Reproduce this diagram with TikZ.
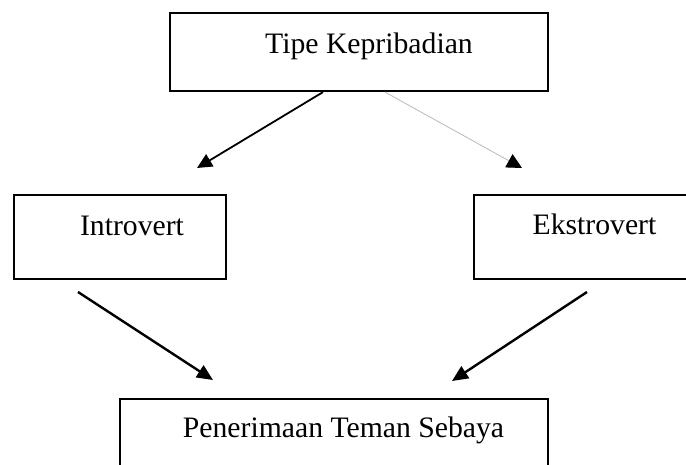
\documentclass[tikz,border=0pt]{standalone}
\usepackage{fontspec}
\setmainfont{Liberation Serif}
\usetikzlibrary{arrows.meta}
\tikzset{
	framebox/.style={draw,line width=2.2pt,inner sep=0pt},%
	boxtext/.style={anchor=base,inner sep=0pt,font=\fontsize{29.7}{36}\selectfont},%
	linkline/.style={line width=2.4pt,-{Triangle[length=16pt,width=14pt]}},%
	linkthin/.style={line width=1.8pt,-{Triangle[length=15pt,width=14pt]}},%
	linkgray/.style={line width=0.9pt,black!25,-{Triangle[length=15pt,width=15pt,color=black]}},%
}

\begin{document}
\begin{tikzpicture}[%
		x=1pt,y=-1pt,%
		]
		\useasboundingbox (0,0) rectangle (686,464);
		\clip (0,0) rectangle (686,464);
		% boxes
		\node[framebox,minimum width=378pt,minimum height=78pt] (tipe) at (359,52) {};
		\node[framebox,minimum width=212pt,minimum height=84pt] (intro) at (120,237) {};
		\node[framebox,minimum width=213pt,minimum height=84pt] (ekstro) at (580.5,237) {};
		\node[framebox,minimum width=428pt,minimum height=90pt] (terima) at (334,444) {};
		% texts
		\node[boxtext] (tipetext) at (369,53) {Tipe Kepribadian};
		\node[boxtext] (introtext) at (132,235) {Introvert};
		\node[boxtext] (ekstrotext) at (594.5,234) {Ekstrovert};
		\node[boxtext] (terimatext) at (343.5,437) {Penerimaan Teman Sebaya};
		% free ends
		\coordinate (introin) at (197,168);
		\coordinate (ekstroin) at (522,168);
		\coordinate (introout) at (78,292);
		\coordinate (ekstroout) at (587,292);
		\coordinate (terimainl) at (213,380);
		\coordinate (terimainr) at (452,381);
		% arrows
		\draw[linkthin] ([xshift=-36pt]tipe.south) -- (introin);
		\draw[linkgray] ([xshift=26pt]tipe.south) -- (ekstroin);
		\draw[linkline] (introout) -- (terimainl);
		\draw[linkline] (ekstroout) -- (terimainr);
	\end{tikzpicture}
\end{document}
